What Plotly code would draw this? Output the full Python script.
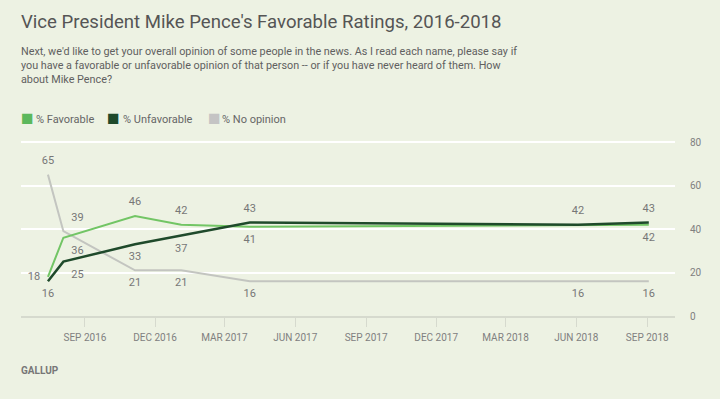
import plotly.graph_objects as go

dates = ["2016-07-15", "2016-08-04", "2016-11-05", "2017-01-04", "2017-04-03", "2018-06-03", "2018-09-03"]
favorable = [18, 36, 46, 42, 41, 42, 42]
unfavorable = [16, 25, 33, 37, 43, 42, 43]
no_opinion = [65, 39, 21, 21, 16, 16, 16]

fav_text = ["18", "36", "46", "42", "41", "42", "42"]
unf_text = ["16", "25", "33", "37", "43", "", "43"]
no_text = ["65", "39", "21", "21", "16", "16", "16"]

tick_vals = ["2016-09-01", "2016-12-01", "2017-03-01", "2017-06-01", "2017-09-01",
             "2017-12-01", "2018-03-01", "2018-06-01", "2018-09-01"]
tick_text = ["SEP 2016", "DEC 2016", "MAR 2017", "JUN 2017", "SEP 2017",
             "DEC 2017", "MAR 2018", "JUN 2018", "SEP 2018"]

legend_names = ["% Favorable", "% Unfavorable", "% No opinion"]

FAV = "#72c565"
UNF = "#1f4a2b"
NOP = "#c3c5c0"
BG = "#edf2e3"
LBL = "#777777"

fig = go.Figure()

mk = dict(size=11, opacity=0)
fig.add_trace(go.Scatter(x=dates, y=no_opinion, mode="lines+markers+text", line=dict(color=NOP, width=2),
                         marker=mk, text=no_text,
                         textposition=["top center", "top right", "bottom center", "bottom center",
                                       "bottom center", "bottom center", "bottom center"],
                         textfont=dict(size=11, color=LBL), showlegend=False, hoverinfo="skip"))
fig.add_trace(go.Scatter(x=dates, y=favorable, mode="lines+markers+text", line=dict(color=FAV, width=2),
                         marker=mk, text=fav_text,
                         textposition=["middle left", "bottom right", "top center", "top center",
                                       "bottom center", "top center", "bottom center"],
                         textfont=dict(size=11, color=LBL), showlegend=False, hoverinfo="skip"))
fig.add_trace(go.Scatter(x=dates, y=unfavorable, mode="lines+markers+text", line=dict(color=UNF, width=2.5),
                         marker=mk, text=unf_text,
                         textposition=["bottom center", "bottom right", "bottom center", "bottom center",
                                       "top center", "top center", "top center"],
                         textfont=dict(size=11, color=LBL), showlegend=False, hoverinfo="skip"))

L, R, T, B = 21, 675, 138, 316
YTOP = 80 + 4 / 2.175


def px(x):
    return (x - L) / (R - L)


def py(y):
    return (B - y) / (B - T)


annos = [
    dict(text="Vice President Mike Pence's Favorable Ratings, 2016-2018", x=px(19), y=py(22),
         font=dict(size=18.6, color="#555555")),
    dict(text="Next, we'd like to get your overall opinion of some people in the news. As I read each name, please say if<br>"
              "you have a favorable or unfavorable opinion of that person -- or if you have never heard of them. How<br>"
              "about Mike Pence?", x=px(19), y=py(65),
         font=dict(size=10.8, color="#606060"), align="left"),
    dict(text="<b>GALLUP</b>", x=px(19), y=py(370), font=dict(size=10, color="#777777")),
]
leg_cols = ["#5cb85c", UNF, "#c4c4c4"]
sq_x = [19, 105, 206]
txt_x = [34, 121, 220]
for name, col, sx, tx in zip(legend_names, leg_cols, sq_x, txt_x):
    annos.append(dict(text="■", x=px(sx), y=py(118), font=dict(size=21, color=col)))
    annos.append(dict(text=name, x=px(tx), y=py(119), font=dict(size=11, color="#666666")))
for a in annos:
    a.update(xref="paper", yref="paper", xanchor="left", yanchor="middle", showarrow=False)

fig.update_layout(
    width=720, height=399,
    margin=dict(l=L, r=720 - R, t=T, b=399 - B, autoexpand=False),
    paper_bgcolor=BG, plot_bgcolor=BG,
    font=dict(family="Roboto, sans-serif", color="#666666"),
    annotations=annos,
    showlegend=False,
    xaxis=dict(range=["2016-06-10", "2018-10-07"], tickvals=tick_vals, ticktext=tick_text,
               showgrid=False, zeroline=False, showline=True, linecolor="#d6dace", linewidth=2,
               ticks="outside", ticklen=9, tickcolor="#d6dace", tickwidth=1,
               tickfont=dict(size=10, color="#808080"), ticklabelstandoff=2),
    yaxis=dict(range=[0, YTOP], tickvals=[0, 20, 40, 60, 80], side="right",
               showgrid=True, gridcolor="#ffffff", gridwidth=2, zeroline=False,
               tickfont=dict(size=10, color="#808080"), ticklabelstandoff=14),
)

fig.write_html("out.html", config={"displayModeBar": False},
               post_script="document.body.style.margin='0';document.body.style.background='" + BG + "';")
